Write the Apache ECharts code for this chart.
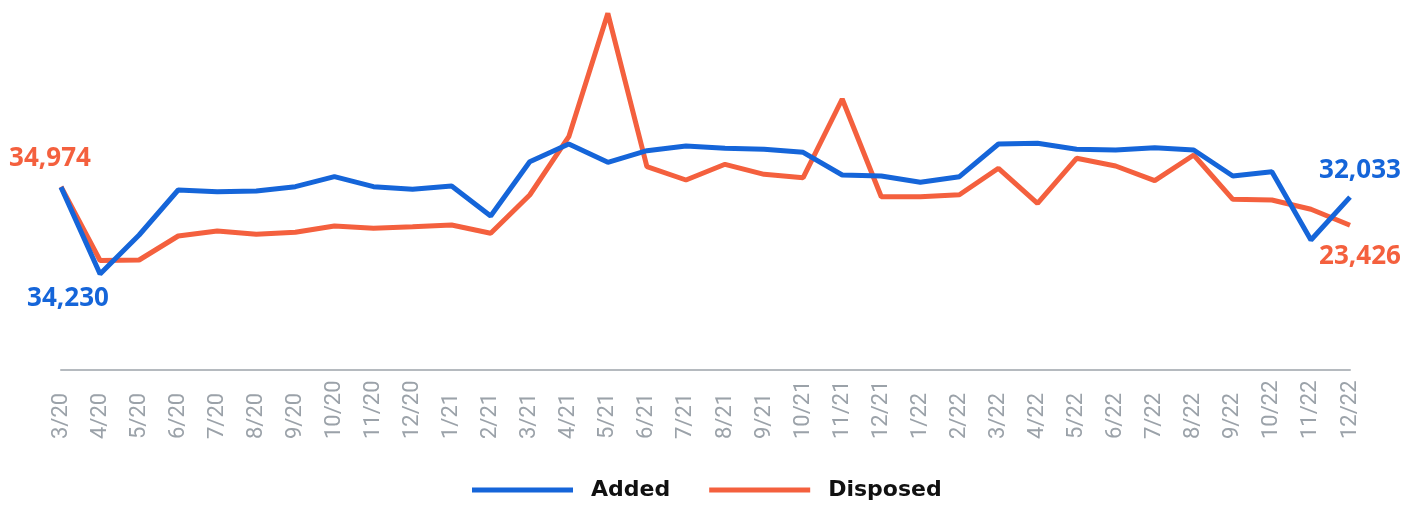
<!DOCTYPE html>
<html>

<head>
    <meta charset="UTF-8">
    <style type="text/css">
        body {
            margin: 0;
            padding: 0;
            overflow: hidden;
            background: #fff;
        }

        #chart {
            height: 506px;
            width: 1421px;
            position: absolute
        }
    </style>
</head>

<body>
    <div id="chart"></div>
    <script src="https://cdn.jsdelivr.net/npm/echarts@6.0.0/dist/echarts.min.js"></script>
    <script>
        // months, 3/20 .. 12/22
        let months = ['3/20', '4/20', '5/20', '6/20', '7/20', '8/20', '9/20', '10/20', '11/20', '12/20',
            '1/21', '2/21', '3/21', '4/21', '5/21', '6/21', '7/21', '8/21', '9/21', '10/21', '11/21', '12/21',
            '1/22', '2/22', '3/22', '4/22', '5/22', '6/22', '7/22', '8/22', '9/22', '10/22', '11/22', '12/22'];

        let added = [34230, 15120, 23700, 33600, 33230, 33380, 34330, 36530, 34330, 33750,
            34480, 27880, 39830, 43720, 39690, 42250, 43280, 42770, 42550, 41890, 36900, 36680,
            35290, 36530, 43720, 43870, 42550, 42400, 42910, 42400, 36680, 37630, 22600, 32033];

        let disposed = [34974, 12850, 13000, 20200, 21700, 20710, 21310, 23200, 22510, 22990,
            23500, 21010, 32500, 49990, 87000, 40990, 37000, 41710, 38710, 37690, 61300, 31990,
            31950, 32590, 40510, 30010, 43510, 41200, 36790, 44500, 31210, 31000, 28210, 23426];

        let COLORS = {
            'Added': '#1565d9',
            'Disposed': '#f4603e'
        };

        // only first and last value get a label
        function withEndLabels(values, color, firstOffset, lastOffset) {
            return values.map((v, i) => {
                if (i !== 0 && i !== values.length - 1) {
                    return v;
                }
                return {
                    value: v,
                    label: {
                        show: true,
                        position: 'inside',
                        offset: i === 0 ? firstOffset : lastOffset,
                        color: color,
                        fontFamily: 'Noto Sans',
                        fontWeight: 'bold',
                        fontSize: 26,
                        formatter: function (p) {
                            return p.value.toLocaleString('en-US');
                        }
                    }
                };
            });
        }

        var myChart = echarts.init(document.getElementById('chart'));

        let option = {
            animation: false,
            grid: {
                left: 61,
                right: 71,
                top: 0,
                bottom: 136,
                outerBoundsMode: 'none'
            },
            legend: {
                data: ['Added', 'Disposed'],
                left: 472,
                top: 479,
                padding: 0,
                itemWidth: 101,
                itemHeight: 5,
                itemGap: 39,
                icon: 'rect',
                textStyle: {
                    fontFamily: 'DejaVu Sans',
                    fontWeight: 'bold',
                    fontSize: 22,
                    color: '#111',
                    padding: [0, 0, 0, 13]
                }
            },
            xAxis: {
                type: 'category',
                data: months,
                boundaryGap: false,
                axisTick: { show: false },
                axisLine: {
                    onZero: false,
                    lineStyle: { color: '#b5babf', width: 2 }
                },
                axisLabel: {
                    interval: 0,
                    rotate: 90,
                    align: 'left',
                    verticalAlign: 'middle',
                    margin: 69,
                    fontFamily: 'Roboto',
                    fontSize: 22,
                    color: '#9ba2a9'
                }
            },
            yAxis: [
                { type: 'value', show: false, min: -6000, max: 75400, splitLine: { show: false } },
                { type: 'value', show: false, min: -20000, max: 91000, splitLine: { show: false } }
            ],
            series: [
                {
                    name: 'Added',
                    type: 'line',
                    yAxisIndex: 0,
                    z: 3,
                    symbol: 'circle',
                    symbolSize: 0,
                    showSymbol: true,
                    color: COLORS['Added'],
                    lineStyle: { width: 5, color: COLORS['Added'] },
                    data: withEndLabels(added, COLORS['Added'], [7, 111], [10, -27])
                },
                {
                    name: 'Disposed',
                    type: 'line',
                    yAxisIndex: 1,
                    z: 2,
                    symbol: 'circle',
                    symbolSize: 0,
                    showSymbol: true,
                    color: COLORS['Disposed'],
                    lineStyle: { width: 5, color: COLORS['Disposed'] },
                    data: withEndLabels(disposed, COLORS['Disposed'], [-11, -28], [10, 31])
                }
            ]
        };
        myChart.setOption(option);
    </script>
</body>

</html>
